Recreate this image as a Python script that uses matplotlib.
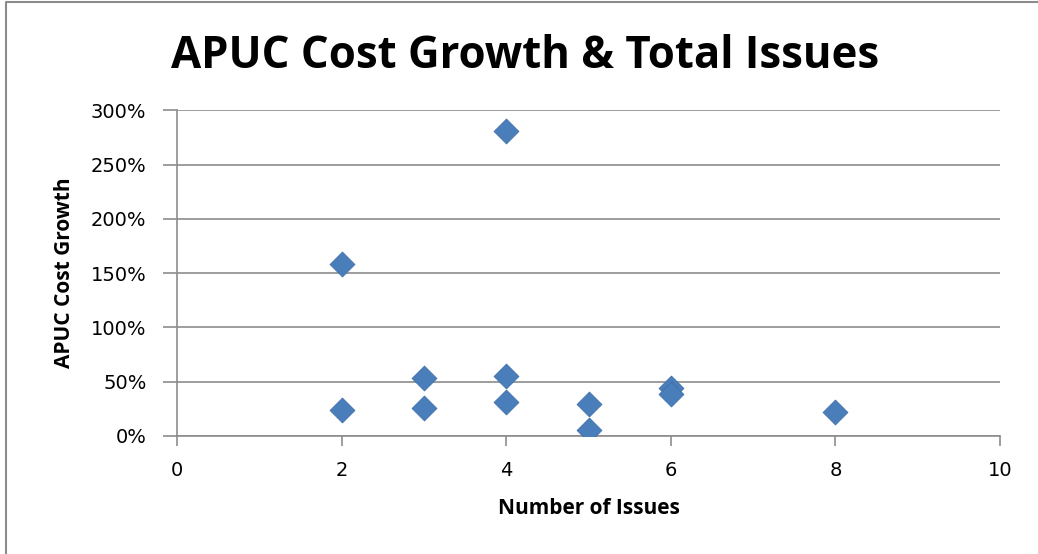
import matplotlib
matplotlib.use("Agg")
import matplotlib.pyplot as plt
from matplotlib.ticker import FuncFormatter
from matplotlib.lines import Line2D

# data
issues = [2, 2, 3, 3, 4, 4, 4, 5, 5, 6, 6, 8]
growth = [1.58, 0.24, 0.535, 0.26, 2.81, 0.555, 0.315, 0.295, 0.055, 0.44, 0.385, 0.22]

x_ticks = [0, 2, 4, 6, 8, 10]
y_ticks = [0, 0.5, 1.0, 1.5, 2.0, 2.5, 3.0]

fig = plt.figure(figsize=(10.38, 5.54), dpi=100)
# chart frame (only left and top edges fall inside the picture)
fig.lines.append(Line2D([0.0055, 0.0055, 1.0], [0.0, 0.9955, 0.9955], transform=fig.transFigure,
                        color='#8c8c8c', linewidth=1.5))
ax = fig.add_axes([0.1705, 0.213, 0.793, 0.588])

ax.scatter(issues, growth, marker='D', s=160, color='#4A7EBB', edgecolor='#3f6fa8',
           linewidth=0.6, zorder=3)

ax.set_xlim(0, 10)
ax.set_ylim(0, 3.0)
ax.set_xticks(x_ticks)
ax.set_yticks(y_ticks)
ax.yaxis.set_major_formatter(FuncFormatter(lambda v, p: '%d%%' % round(v * 100)))
ax.grid(axis='y', color='#8c8c8c', linewidth=1.2)
ax.set_axisbelow(True)

for s in ['top', 'right']:
    ax.spines[s].set_visible(False)
for s in ['left', 'bottom']:
    ax.spines[s].set_color('#8c8c8c')
    ax.spines[s].set_linewidth(1.2)
ax.tick_params(axis='both', colors='#8c8c8c', width=1.2, labelcolor='black', labelsize=14)
ax.tick_params(axis='y', length=10, pad=12)
ax.tick_params(axis='x', length=7, pad=11)

ax.set_xlabel('Number of Issues', fontsize=15, fontweight='bold', family='Open Sans', labelpad=13)
ax.set_ylabel('APUC Cost Growth', fontsize=15, fontweight='bold', family='Open Sans', labelpad=11)
fig.text(0.506, 0.877, 'APUC Cost Growth & Total Issues', ha='center', va='baseline',
         fontsize=31.5, fontweight='bold', family='Open Sans')

fig.savefig('out.png', dpi=100)
